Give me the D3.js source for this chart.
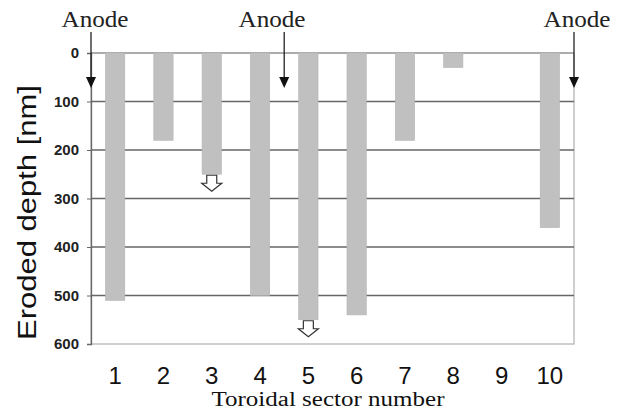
<!DOCTYPE html>
<html><head><meta charset="utf-8">
<script src="https://cdn.jsdelivr.net/npm/d3@7"></script>
<style>html,body{margin:0;padding:0;background:#fff}svg{display:block}</style>
</head><body>
<script>
const sectors = ["1","2","3","4","5","6","7","8","9","10"];
const depths = [510, 180, 250, 500, 550, 540, 180, 30, 0, 360];
const exceeds = [false, false, true, false, true, false, false, false, false, false];
const yTicks = [0, 100, 200, 300, 400, 500, 600];
const anodeAt = [0.5, 4.5, 10.5];
const anodeLabel = "Anode";
const yTitle = "Eroded depth [nm]";
const xTitle = "Toroidal sector number";

const W = 623, H = 412;
const L = 91, R = 574, T = 53, B = 344;
const svg = d3.select("body").append("svg").attr("width", W).attr("height", H);

const x = d3.scaleBand().domain(sectors).range([L, R]).paddingInner(0.6).paddingOuter(0.3);
const xLin = d3.scaleLinear().domain([0.5, 10.5]).range([L, R]);
const y = d3.scaleLinear().domain([0, 600]).range([T, B]);

// frame (right/bottom light)
svg.append("rect").attr("x", L).attr("y", T).attr("width", R - L).attr("height", B - T)
  .attr("fill", "none").attr("stroke", "#b0b0b0").attr("stroke-width", 1.2);

// gridlines
svg.append("g").selectAll("line").data(yTicks.filter(d => d > 0 && d < 600)).join("line")
  .attr("x1", L).attr("x2", R).attr("y1", d => y(d)).attr("y2", d => y(d))
  .attr("stroke", "#666").attr("stroke-width", 1.3);
svg.append("line").attr("x1", L).attr("x2", R).attr("y1", y(0)).attr("y2", y(0))
  .attr("stroke", "#8a8a8a").attr("stroke-width", 1.2);

// y axis
const yAxis = d3.axisLeft(y).tickValues(yTicks).tickSize(4).tickPadding(8);
const gy = svg.append("g").attr("transform", `translate(${L},0)`).call(yAxis);
gy.select(".domain").attr("stroke", "#666").attr("stroke-width", 1.3);
gy.selectAll(".tick line").attr("stroke", "#666");
gy.selectAll("text").attr("font-family", "Liberation Sans, Arial, sans-serif")
  .attr("font-size", 15).attr("font-weight", "bold").attr("fill", "#222");

// bars
svg.append("g").selectAll("rect").data(depths).join("rect")
  .attr("x", (d, i) => x(sectors[i])).attr("width", x.bandwidth())
  .attr("y", y(0)).attr("height", d => y(d) - y(0))
  .attr("fill", "#c0c0c0").attr("stroke", "#b4b4b4").attr("stroke-width", 0.6);

// open "greater than" arrows
svg.append("g").selectAll("path").data(depths.map((d, i) => ({d, i})).filter(o => exceeds[o.i])).join("path")
  .attr("d", o => {
    const cx = x(sectors[o.i]) + x.bandwidth() / 2, y0 = y(o.d) + 1;
    const sw = 5, hw = 10, sh = 8, hh = 8;
    return `M${cx - sw},${y0} L${cx + sw},${y0} L${cx + sw},${y0 + sh} L${cx + hw},${y0 + sh} L${cx},${y0 + sh + hh} L${cx - hw},${y0 + sh} L${cx - sw},${y0 + sh} Z`;
  })
  .attr("fill", "#fff").attr("stroke", "#333").attr("stroke-width", 1.2);

// x labels
const xAxis = d3.axisBottom(x).tickSize(0).tickPadding(0);
const gx = svg.append("g").attr("transform", `translate(0,${B})`).call(xAxis);
gx.select(".domain").remove();
gx.selectAll("text").attr("font-family", "Liberation Sans, Arial, sans-serif")
  .attr("font-size", 24).attr("fill", "#111").attr("dy", 0).attr("y", 40);

// anode arrows
const ag = svg.append("g").selectAll("g").data(anodeAt).join("g");
ag.append("line").attr("x1", d => xLin(d)).attr("x2", d => xLin(d))
  .attr("y1", 32).attr("y2", 80).attr("stroke", "#222").attr("stroke-width", 1.3);
ag.append("path").attr("d", d => {
  const cx = xLin(d);
  return `M${cx - 5},77 L${cx + 5},77 L${cx},88 Z`;
}).attr("fill", "#111");
const anodeCenters = [95, 272, 577];
ag.append("text").attr("x", (d, i) => anodeCenters[i]).attr("y", 27)
  .attr("text-anchor", "middle").attr("font-family", "Liberation Serif, Times New Roman, serif")
  .attr("font-size", 23).attr("fill", "#222")
  .attr("textLength", 67).attr("lengthAdjust", "spacingAndGlyphs").text(anodeLabel);

// titles
svg.append("text").attr("transform", `translate(36,${(85 + 340) / 2}) rotate(-90)`)
  .attr("text-anchor", "middle").attr("font-family", "Liberation Sans, Arial, sans-serif")
  .attr("font-size", 25).attr("fill", "#111")
  .attr("textLength", 255).attr("lengthAdjust", "spacingAndGlyphs").text(yTitle);
svg.append("text").attr("x", 328).attr("y", 406).attr("text-anchor", "middle")
  .attr("font-family", "Liberation Serif, Times New Roman, serif")
  .attr("font-size", 20).attr("fill", "#111")
  .attr("textLength", 233).attr("lengthAdjust", "spacingAndGlyphs").text(xTitle);
</script>
</body></html>
